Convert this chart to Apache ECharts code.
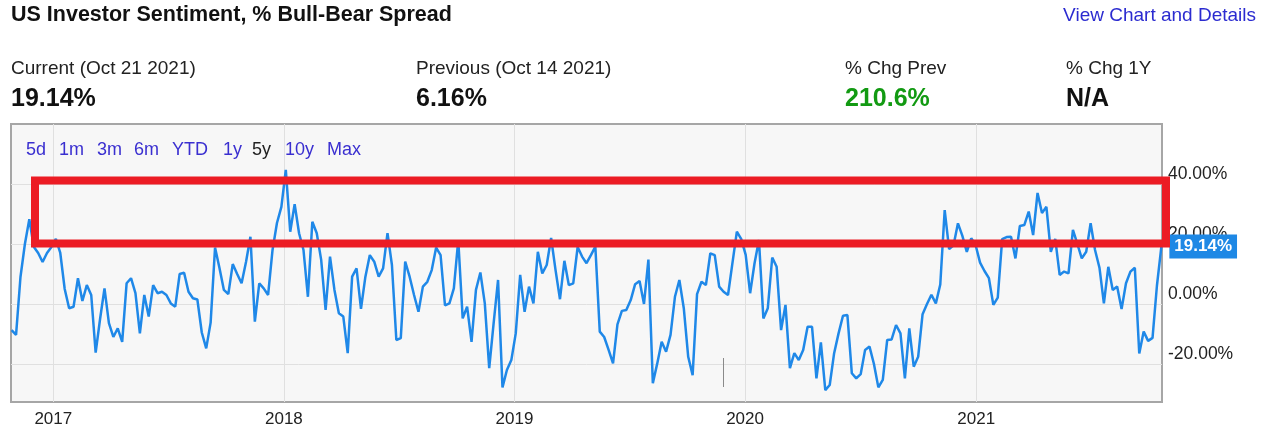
<!DOCTYPE html>
<html><head><meta charset="utf-8">
<script src="https://cdn.jsdelivr.net/npm/echarts@6/dist/echarts.min.js"></script>
<style>html,body{margin:0;padding:0;background:#fff;}#c{width:1280px;height:442px;}</style>
</head><body><div id="c"></div>
<script>
// ---- data ----
const firstWeek = '2016-10-27';           // first weekly observation (Thursday)
const spread = [                         // % Bull-Bear spread, weekly
  -8.7, -10.3, 9, 20, 28.3, 19.1, 17, 14, 17, 19,
  21.7, 17, 5, -1.4, -0.9, 8.6, 1, 6.3, 3, -16.2,
  -5, 5.2, -6.4, -11, -8.1, -12.6, 6.9, 8.6, 3.6, -9.8,
  3, -4.2, 6.3, 3.6, 4.1, 3, 0.2, -0.9, 10, 10.4,
  4.1, 1.9, 1.5, -9.5, -14.8, -6.2, 18.8, 12, 4.7, 3.3,
  13.3, 10, 6.9, 14, 22.4, -5.9, 6.9, 5.2, 3, 18,
  27, 32.4, 44.7, 24.1, 33.3, 23.6, 18, 2.4, 27.4, 23.6,
  14.7, -2, 15.8, 4.7, -3.1, -4.2, -16.4, 9.1, 11.9, -1.6,
  9.1, 16.3, 14.1, 9.1, 11.9, 23.6, 13, -12, -11.4, 14.1,
  9.1, 3, -2.6, 5.8, 7.4, 11.3, 18.8, 16.3, -0.5, 0.2,
  5.2, 21.3, -4.8, -0.9, -12.6, 4.7, 10.5, 0.2, -21.4, -6.4,
  8, -27.8, -22, -18.7, -9.8, 9.7, -2.6, 5.8, 0.2, 17.4,
  10.2, 13, 22, 11.3, 1.6, 14.4, 6.3, 6.9, 19, 15.8,
  13.6, 16.3, 19.1, -9.2, -11, -15.3, -19.8, -6.8, -2.3, -2,
  1.3, 6.6, 7.7, 0, 14.8, -26.4, -19.8, -12.6, -15.9, -10.3,
  2.4, 8, -1.4, -17.6, -23.7, 3.3, 7.4, 6.3, 16.9, 16.3,
  5.8, 4.1, 3, 13.6, 24.1, 21.6, 16.4, 3.6, 13.6, 21.3,
  -4.8, -1.4, 15.5, 12.4, -8.7, -0.3, -21.4, -16.4, -18.7, -15.3,
  -7.6, -7.6, -24.8, -12.8, -28.7, -27, -16.4, -9.8, -3.9, -3.7,
  -23.1, -24.8, -23.4, -15.3, -14.2, -20, -27.8, -25.3, -12, -11.8,
  -7, -9.8, -24.8, -8.1, -20.9, -17.6, -3.4, 0, 3.1, 0.2,
  6.5, 31.3, 18.3, 19.6, 26.9, 22.7, 17.4, 21.9, 19.6, 13.8,
  11, 8.6, -0.3, 2.1, 21.6, 22.3, 22.4, 15.2, 26, 26.3,
  30.8, 23, 37, 30.3, 32.4, 17.4, 21.7, 9.7, 10.8, 10.2,
  24.7, 20, 15.2, 17.4, 26.9, 18, 12.1, 0.2, 12.4, 4.7,
  5.8, -1.7, 6.9, 10.8, 12.1, -16.5, -9.2, -12.3, -11.3, 6.16,
  19.14
];
const yTicks = [-20, 0, 20, 40];
const yearTicks = ['2017-01-01', '2018-01-01', '2019-01-01', '2020-01-01', '2021-01-01'];
const axisStart = '2016-10-26';
const axisEnd = '2021-10-22';
const rangeButtons = ['5d', '1m', '3m', '6m', 'YTD', '1y', '5y', '10y', 'Max'];
const selectedRange = '5y';
const stats = [
  { label: 'Current (Oct 21 2021)', value: '19.14%' },
  { label: 'Previous (Oct 14 2021)', value: '6.16%' },
  { label: '% Chg Prev', value: '210.6%' },
  { label: '% Chg 1Y', value: 'N/A' }
];
const chartTitle = 'US Investor Sentiment, % Bull-Bear Spread';
const linkText = 'View Chart and Details';

// ---- build ----
const FONT = '"Liberation Sans", Arial, sans-serif';
const DAY = 86400000;
const ts = s => Date.parse(s + 'T00:00:00Z');
const t0 = ts(firstWeek);
const seriesData = spread.map((v, i) => [t0 + i * 7 * DAY, v]);
const yearTickNums = yearTicks.map(ts);

const statX = [11, 416, 845, 1066];
const statColors = ['#111', '#111', '#129a12', '#111'];
const btnX = [26, 59, 97, 134, 172, 223, 252, 285, 327];

const graphics = [
  { type: 'text', left: 11, top: 4, style: { text: chartTitle, font: 'bold 21.5px ' + FONT, fill: '#111' } },
  { type: 'text', right: 24, top: 6, style: { text: linkText, font: '19px ' + FONT, fill: '#2b2bd0' } }
];
stats.forEach((s, i) => {
  graphics.push({ type: 'text', left: statX[i], top: 59, style: { text: s.label, font: '19px ' + FONT, fill: '#222' } });
  graphics.push({ type: 'text', left: statX[i], top: 87, style: { text: s.value, font: 'bold 25px ' + FONT, fill: statColors[i] } });
});
rangeButtons.forEach((b, i) => {
  graphics.push({ type: 'text', left: btnX[i], top: 141, z: 50, style: { text: b, font: '18px ' + FONT, fill: b === selectedRange ? '#222' : '#3a2fd0' } });
});
graphics.push({ type: 'rect', z: 100, shape: { x: 35, y: 180.5, width: 1131, height: 63 }, style: { fill: 'none', stroke: '#ec1c24', lineWidth: 8 } });
graphics.push({ type: 'line', z: 40, shape: { x1: 723.5, y1: 358, x2: 723.5, y2: 387 }, style: { stroke: '#8a8a8a', lineWidth: 1 } });

const chart = echarts.init(document.getElementById('c'), null, { renderer: 'canvas' });
chart.setOption({
  animation: false,
  backgroundColor: '#fff',
  grid: { left: 11, right: 118, top: 124, bottom: 40, show: true, backgroundColor: '#f7f7f7', borderColor: '#a6a6a6', borderWidth: 2, containLabel: false },
  xAxis: {
    type: 'value',
    min: ts(axisStart),
    max: ts(axisEnd),
    axisLine: { show: false },
    axisTick: { show: false, customValues: yearTickNums },
    axisLabel: { customValues: yearTickNums, color: '#222', fontSize: 17, fontFamily: FONT, margin: 9,
      formatter: v => String(new Date(v).getUTCFullYear()) },
    splitLine: { show: true, lineStyle: { color: '#e0e0e0', width: 1 } }
  },
  yAxis: {
    type: 'value',
    position: 'right',
    min: -32.67,
    max: 60,
    axisLine: { show: false },
    axisTick: { show: false, customValues: yTicks },
    axisLabel: { customValues: yTicks, color: '#222', fontSize: 17.5, fontFamily: FONT, margin: 6,
      verticalAlign: 'bottom', lineHeight: 19, formatter: v => v.toFixed(2) + '%' },
    splitLine: { show: true, lineStyle: { color: '#e0e0e0', width: 1 } }
  },
  series: [{
    type: 'line',
    data: seriesData,
    showSymbol: false,
    lineStyle: { color: '#1f88e8', width: 2.5 },
    itemStyle: { color: '#1f88e8' },
    endLabel: { show: true, formatter: '19.14%', distance: 8, backgroundColor: '#1e88e5', color: '#fff',
      fontWeight: 'bold', fontSize: 17, fontFamily: FONT, padding: [4, 5, 3, 5] }
  }],
  graphic: graphics
});
</script></body></html>
